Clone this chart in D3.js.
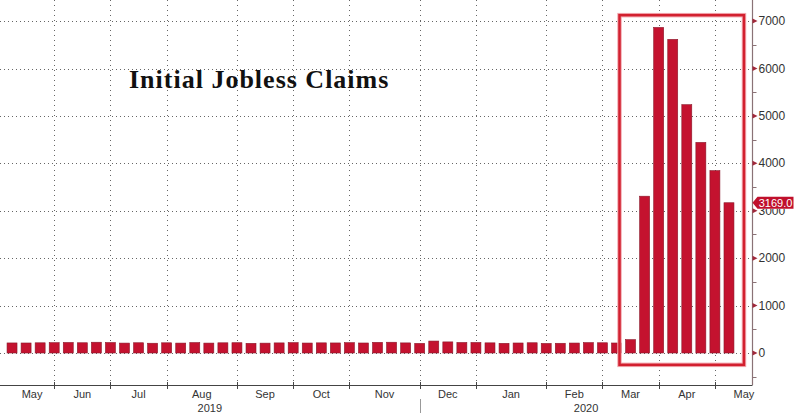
<!DOCTYPE html>
<html><head><meta charset="utf-8">
<script src="https://cdn.jsdelivr.net/npm/d3@7"></script>
<style>html,body{margin:0;padding:0;background:#fff;}svg{display:block;}</style>
</head><body><svg id="c" width="800" height="416"></svg>
<script>
const weeks = ["2019-05-11","2019-05-18","2019-05-25","2019-06-01","2019-06-08","2019-06-15","2019-06-22","2019-06-29",
"2019-07-06","2019-07-13","2019-07-20","2019-07-27","2019-08-03","2019-08-10","2019-08-17","2019-08-24","2019-08-31",
"2019-09-07","2019-09-14","2019-09-21","2019-09-28","2019-10-05","2019-10-12","2019-10-19","2019-10-26",
"2019-11-02","2019-11-09","2019-11-16","2019-11-23","2019-11-30","2019-12-07","2019-12-14","2019-12-21","2019-12-28",
"2020-01-04","2020-01-11","2020-01-18","2020-01-25","2020-02-01","2020-02-08","2020-02-15","2020-02-22","2020-02-29",
"2020-03-07","2020-03-14","2020-03-21","2020-03-28","2020-04-04","2020-04-11","2020-04-18","2020-04-25","2020-05-02"];
const claims = [212,211,215,218,222,216,227,221,209,216,206,215,209,220,209,215,217,204,208,213,219,210,214,212,218,
211,225,227,213,203,252,234,222,222,214,204,211,216,202,205,210,219,216,211,282,3307,6867,6615,5237,4442,3846,3169];
const monthLabels = ["May","Jun","Jul","Aug","Sep","Oct","Nov","Dec","Jan","Feb","Mar","Apr","May"];
const monthStarts = ["2019-06-01","2019-07-01","2019-08-01","2019-09-01","2019-10-01","2019-11-01","2019-12-01",
"2020-01-01","2020-02-01","2020-03-01","2020-04-01","2020-05-01"];
const yearLabels = ["2019","2020"];
const yTicks = [0,1000,2000,3000,4000,5000,6000,7000];
const yMinorTicks = [-500,500,1500,2500,3500,4500,5500,6500];
const title = "Initial Jobless Claims";
const lastLabel = "3169.0";

const svg = d3.select("#c");
const axisX = 752.5, axisY = 385;

const x = d3.scaleBand().domain(weeks).range([5, 736]).paddingInner(0.29).paddingOuter(0.145);
const y = d3.scaleLinear().domain([-675, 7445]).range([axisY, 0]);
const cx = d => x(d) + x.bandwidth()/2;

const tickPos = monthStarts.map(ms => {
  const cand = weeks.filter(w => w <= ms);
  return cx(cand[cand.length-1]);
});

// gridlines
const g = svg.append("g");
g.selectAll("line.h").data(yTicks).enter().append("line")
  .attr("x1", 0).attr("x2", axisX).attr("y1", d => Math.round(y(d))+0.5).attr("y2", d => Math.round(y(d))+0.5)
  .attr("stroke", "#666").attr("stroke-width", 1).attr("stroke-dasharray", "1,3");
g.selectAll("line.v").data(tickPos).enter().append("line")
  .attr("x1", d => Math.round(d)+0.5).attr("x2", d => Math.round(d)+0.5).attr("y1", 0).attr("y2", axisY)
  .attr("stroke", "#666").attr("stroke-width", 1).attr("stroke-dasharray", "1,4");

// title
svg.append("text").attr("x", 129).attr("y", 88).text(title)
  .attr("font-family", "'Liberation Serif', 'DejaVu Serif', serif").attr("font-weight", "bold")
  .attr("font-size", 26).attr("letter-spacing", 1).attr("fill", "#111");

// bars
svg.append("g").selectAll("rect").data(weeks).enter().append("rect")
  .attr("x", d => x(d)).attr("width", x.bandwidth())
  .attr("y", (d,i) => y(claims[i])).attr("height", (d,i) => y(0) - y(claims[i]))
  .attr("fill", "#c4122f").attr("stroke", "#8a1a2c").attr("stroke-width", 0.6);

// highlight box
const bx0 = cx(weeks[43]) + 3, bx1 = cx(weeks[51]) + 15;
const by0 = y(7125), by1 = y(-250);
svg.append("rect").attr("x", bx0).attr("y", by0).attr("width", bx1-bx0).attr("height", by1-by0)
  .attr("fill", "none").attr("stroke", "#f2a9b0").attr("stroke-width", 4.5);
svg.append("rect").attr("x", bx0).attr("y", by0).attr("width", bx1-bx0).attr("height", by1-by0)
  .attr("fill", "none").attr("stroke", "#d2202f").attr("stroke-width", 2.5);

// x axis
svg.append("line").attr("x1", 0).attr("x2", axisX).attr("y1", axisY+0.5).attr("y2", axisY+0.5)
  .attr("stroke", "#444").attr("stroke-width", 1.2);
svg.append("g").selectAll("line").data(tickPos).enter().append("line")
  .attr("x1", d => Math.round(d)+0.5).attr("x2", d => Math.round(d)+0.5).attr("y1", axisY-3).attr("y2", axisY+4)
  .attr("stroke", "#444");

const bounds = [cx(weeks[0]) - 40].concat(tickPos).concat([cx(weeks[51]) + 57]);
const xmin = cx(weeks[0]) + 20, xmax = cx(weeks[51]) + 15;
svg.append("g").selectAll("text").data(monthLabels).enter().append("text")
  .attr("x", (d,i) => Math.max(xmin, Math.min(xmax, (bounds[i]+bounds[i+1])/2)))
  .attr("y", 398).attr("text-anchor", "middle").text(d => d)
  .attr("font-family", "'Liberation Sans', Arial, sans-serif").attr("font-size", 11).attr("fill", "#333");

// year separator & labels
const yearSplit = tickPos[6];
svg.append("line").attr("x1", Math.round(yearSplit)+0.5).attr("x2", Math.round(yearSplit)+0.5)
  .attr("y1", 399).attr("y2", 413).attr("stroke", "#999");
const yearCenters = [yearSplit/2, (yearSplit + axisX)/2];
svg.append("g").selectAll("text").data(yearLabels).enter().append("text")
  .attr("x", (d,i) => yearCenters[i]).attr("y", 412).attr("text-anchor", "middle").text(d => d)
  .attr("font-family", "'Liberation Sans', Arial, sans-serif").attr("font-size", 11).attr("fill", "#333");

// right axis
svg.append("line").attr("x1", axisX).attr("x2", axisX).attr("y1", 0).attr("y2", axisY)
  .attr("stroke", "#8a7276").attr("stroke-width", 1.2);
svg.append("g").selectAll("line").data(yMinorTicks).enter().append("line")
  .attr("x1", axisX).attr("x2", axisX+4).attr("y1", d => Math.round(y(d))+0.5).attr("y2", d => Math.round(y(d))+0.5)
  .attr("stroke", "#8a7276");
svg.append("g").selectAll("path").data(yTicks).enter().append("path")
  .attr("d", d => { const yy = y(d); return `M${axisX},${yy-2.5}L${axisX+5},${yy}L${axisX},${yy+2.5}Z`; })
  .attr("fill", "#a0283a");

const ty = y(claims[claims.length-1]);
const tagH = 12;
// clip for the partially hidden 3000 label
svg.append("clipPath").attr("id", "below").append("rect")
  .attr("x", axisX).attr("y", ty + tagH/2).attr("width", 60).attr("height", 40);
svg.append("g").selectAll("text").data(yTicks).enter().append("text")
  .attr("x", axisX+6).attr("y", d => y(d)+4).text(d => d)
  .attr("clip-path", d => d === 3000 ? "url(#below)" : null)
  .attr("font-family", "'Liberation Sans', Arial, sans-serif").attr("font-size", 12).attr("fill", "#333");

// last value tag
svg.append("path")
  .attr("d", `M${axisX},${ty}L${axisX+5},${ty-tagH/2}L${axisX+41},${ty-tagH/2}L${axisX+41},${ty+tagH/2}L${axisX+5},${ty+tagH/2}Z`)
  .attr("fill", "#c0102c");
svg.append("text").attr("x", axisX+23).attr("y", ty+4).attr("text-anchor", "middle").text(lastLabel)
  .attr("font-family", "'Liberation Sans', Arial, sans-serif").attr("font-size", 11).attr("fill", "#fff");
</script></body></html>
